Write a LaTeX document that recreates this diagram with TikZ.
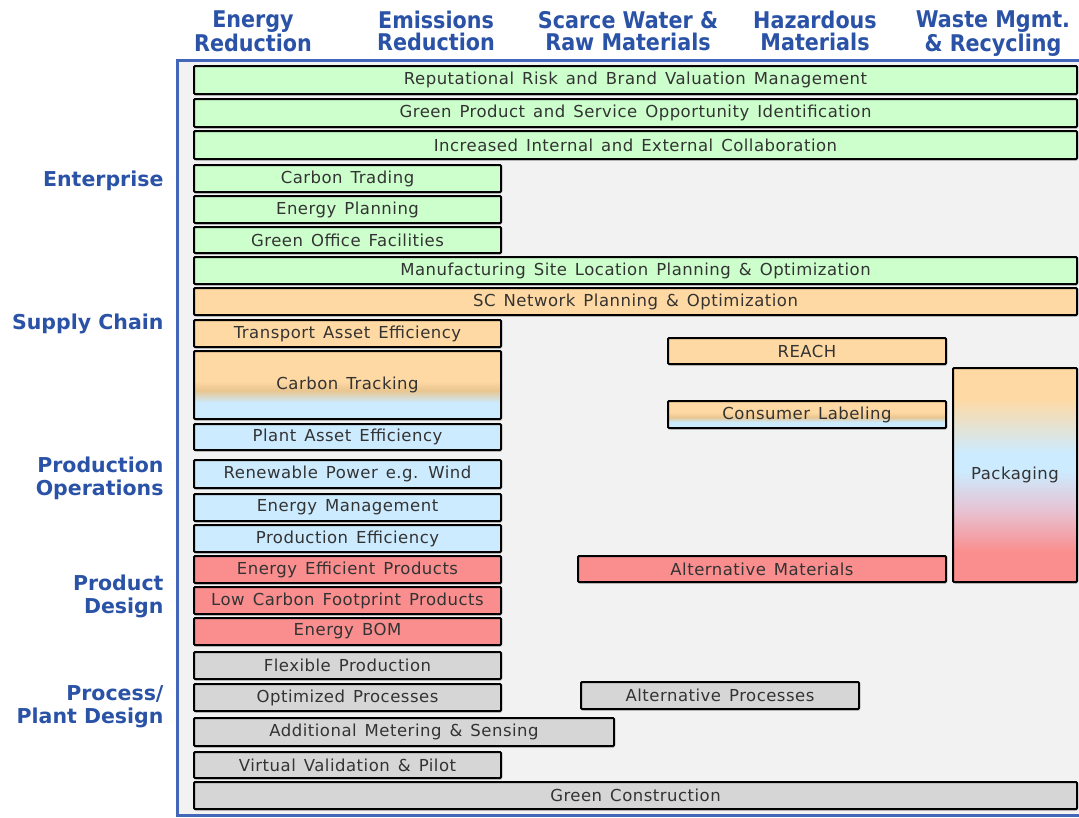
\documentclass[tikz,border=0pt]{standalone}
\usepackage{fontspec}
\setmainfont{DejaVu Sans}
\newfontfamily\headfont{DejaVu Sans Condensed}[BoldFont={DejaVu Sans Condensed Bold}]
\newfontfamily\barfont{DejaVu Sans}[LetterSpace=3, WordSpace=1.4]
\usetikzlibrary{shadows}

\definecolor{panelbg}{HTML}{F2F2F2}
\definecolor{framebl}{HTML}{4466B8}
\definecolor{labelbl}{HTML}{2A52A6}
\definecolor{txtgray}{HTML}{333333}
\definecolor{entgreen}{HTML}{CCFFCC}
\definecolor{scorange}{HTML}{FFD9A3}
\definecolor{sctan}{HTML}{E9C58F}
\definecolor{opblue}{HTML}{CCEBFF}
\definecolor{pdred}{HTML}{FA8E8E}
\definecolor{pdpink}{HTML}{E6C4D4}
\definecolor{plgray}{HTML}{D6D6D6}

\pgfdeclareverticalshading{trackshade}{100bp}{color(0bp)=(opblue); color(37bp)=(opblue); color(46bp)=(sctan); color(53bp)=(scorange); color(100bp)=(scorange)}
\pgfdeclareverticalshading{labelshade}{100bp}{color(0bp)=(opblue); color(36bp)=(opblue); color(45bp)=(sctan); color(54bp)=(scorange); color(100bp)=(scorange)}
\pgfdeclareverticalshading{packshade}{100bp}{color(0bp)=(pdred); color(32bp)=(pdred); color(42bp)=(pdpink); color(51bp)=(opblue); color(55bp)=(opblue); color(68bp)=(scorange); color(100bp)=(scorange)}

\tikzset{
  bar/.style={draw=black, line width=2pt, rounded corners=1pt, anchor=north west,
    inner sep=0pt, text=txtgray, font=\barfont\fontsize{16.5}{18}\selectfont,
    drop shadow={shadow xshift=1pt, shadow yshift=-1.5pt, fill=black!45}},
  ent/.style={bar, fill=entgreen},
  sc/.style={bar, fill=scorange},
  op/.style={bar, fill=opblue},
  pd/.style={bar, fill=pdred},
  pl/.style={bar, fill=plgray},
  colhead/.style={align=center, text depth=0pt, text=labelbl, font=\headfont\bfseries\fontsize{23}{22}\selectfont},
  rowhead/.style={align=right, anchor=east, text=labelbl, font=\bfseries\fontsize{20.5}{23}\selectfont}
}

\begin{document}
\begin{tikzpicture}[x=1pt, y=-1pt]
  \useasboundingbox[fill=white] (0,0) rectangle (1079,817);
  \fill[panelbg] (177,60) rectangle (1079,815);
  \draw[framebl, line width=3pt] (1079,60) -- (177,60) -- (177,815) -- (1079,815);

  \node[colhead] (energy) at (253,31) {Energy\\Reduction};
  \node[colhead] (emission) at (436,31) {Emissions\\Reduction};
  \node[colhead] (water) at (628,31) {Scarce Water \&\\Raw Materials};
  \node[colhead] (hazard) at (815,31) {Hazardous\\Materials};
  \node[colhead] (waste) at (993,31) {Waste Mgmt.\\\& Recycling};

  \node[rowhead] (enterprise) at (167,181) {Enterprise};
  \node[rowhead] (supply) at (167,324) {Supply Chain};
  \node[rowhead] (production) at (167,478) {Production\\Operations};
  \node[rowhead] (design) at (167,596) {Product\\Design};
  \node[rowhead] (plant) at (167,707) {Process/\\Plant Design};

  \node[ent, minimum width=883pt, minimum height=28pt] (reput) at (193,65) {Reputational Risk and Brand Valuation Management};
  \node[ent, minimum width=883pt, minimum height=28pt] (greenprod) at (193,98) {Green Product and Service Opportunity Identification};
  \node[ent, minimum width=883pt, minimum height=28pt] (collab) at (193,130) {Increased Internal and External Collaboration};
  \node[ent, minimum width=307pt, minimum height=27pt] (ctrade) at (193,164) {Carbon Trading};
  \node[ent, minimum width=307pt, minimum height=27pt] (eplan) at (193,195) {Energy Planning};
  \node[ent, minimum width=307pt, minimum height=26pt] (goffice) at (193,226) {Green Office Facilities};
  \node[ent, minimum width=883pt, minimum height=27pt] (mfgsite) at (193,256) {Manufacturing Site Location Planning \& Optimization};

  \node[sc, minimum width=883pt, minimum height=27pt] (scnet) at (193,287) {SC Network Planning \& Optimization};
  \node[sc, minimum width=307pt, minimum height=27pt] (transp) at (193,319) {Transport Asset Efficiency};
  \node[bar, shading=trackshade, minimum width=307pt, minimum height=68pt] (ctrack) at (193,350) {Carbon Tracking};
  \node[sc, minimum width=278pt, minimum height=26pt] (reach) at (667,337) {REACH};
  \node[bar, shading=labelshade, minimum width=278pt, minimum height=27pt] (consumer) at (667,400) {Consumer Labeling};
  \node[bar, shading=packshade, minimum width=124pt, minimum height=214pt] (pack) at (952,367) {Packaging};

  \node[op, minimum width=307pt, minimum height=26pt] (plantasset) at (193,423) {Plant Asset Efficiency};
  \node[op, minimum width=307pt, minimum height=28pt] (renew) at (193,459) {Renewable Power e.g. Wind};
  \node[op, minimum width=307pt, minimum height=27pt] (emgmt) at (193,493) {Energy Management};
  \node[op, minimum width=307pt, minimum height=27pt] (prodeff) at (193,524) {Production Efficiency};

  \node[pd, minimum width=307pt, minimum height=27pt] (eeprod) at (193,555) {Energy Efficient Products};
  \node[pd, minimum width=307pt, minimum height=27pt] (lowcarb) at (193,586) {Low Carbon Footprint Products};
  \node[pd, minimum width=307pt, minimum height=27pt] (ebom) at (193,617) {Energy BOM};
  \node[pd, minimum width=368pt, minimum height=26pt] (altmat) at (577,555) {Alternative Materials};

  \node[pl, minimum width=307pt, minimum height=27pt] (flex) at (193,651) {Flexible Production};
  \node[pl, minimum width=307pt, minimum height=27pt] (optproc) at (193,683) {Optimized Processes};
  \node[pl, minimum width=278pt, minimum height=27pt] (altproc) at (580,681) {Alternative Processes};
  \node[pl, minimum width=420pt, minimum height=28pt] (meter) at (193,717) {Additional Metering \& Sensing};
  \node[pl, minimum width=307pt, minimum height=26pt] (virtual) at (193,751) {Virtual Validation \& Pilot};
  \node[pl, minimum width=883pt, minimum height=27pt] (gconst) at (193,781) {Green Construction};
\end{tikzpicture}
\end{document}
